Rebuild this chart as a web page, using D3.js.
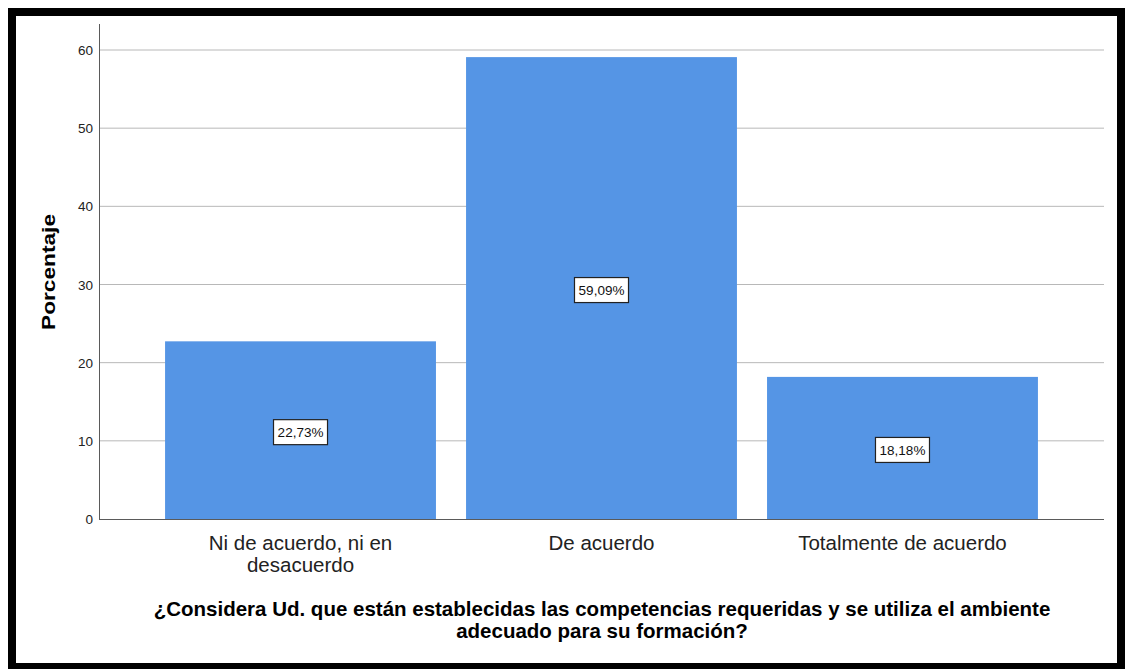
<!DOCTYPE html>
<html>
<head>
<meta charset="utf-8">
<script src="https://cdn.jsdelivr.net/npm/d3@7"></script>
<style>
  body { margin: 0; background: #fff; }
  svg { display: block; font-family: "Liberation Sans", Arial, sans-serif; }
</style>
</head>
<body>
<svg id="chart" width="1125" height="669"></svg>
<script>
const categories = [["Ni de acuerdo, ni en", "desacuerdo"], ["De acuerdo"], ["Totalmente de acuerdo"]];
const percentages = [22.73, 59.09, 18.18];
const valueLabels = ["22,73%", "59,09%", "18,18%"];
const yTicks = [0, 10, 20, 30, 40, 50, 60];
const yTitle = "Porcentaje";
const xTitle = ["¿Considera Ud. que están establecidas las competencias requeridas y se utiliza el ambiente", "adecuado para su formación?"];

const svg = d3.select("#chart");
const plotLeft = 99, plotRight = 1104, plotTop = 24, plotBottom = 519;

// frame
svg.append("rect")
    .attr("x", 12).attr("y", 12)
    .attr("width", 1109).attr("height", 655)
    .attr("fill", "none")
    .attr("stroke", "#000")
    .attr("stroke-width", 8);

const y = d3.scaleLinear().domain([0, 60]).range([plotBottom, 50]);
const x = d3.scaleBand()
    .domain(d3.range(percentages.length))
    .range([plotLeft, plotRight])
    .paddingInner(0.1)
    .paddingOuter(0.2195);

// gridlines
svg.append("g")
    .selectAll("line")
    .data(yTicks.filter(d => d > 0))
    .enter()
    .append("line")
    .attr("x1", plotLeft).attr("x2", plotRight)
    .attr("y1", d => y(d)).attr("y2", d => y(d))
    .attr("stroke", "#b8b8b8")
    .attr("stroke-width", 1);

// bars
svg.append("g")
    .selectAll("rect")
    .data(percentages)
    .enter()
    .append("rect")
    .attr("x", (d, i) => x(i))
    .attr("y", d => y(d))
    .attr("width", x.bandwidth())
    .attr("height", d => plotBottom - y(d))
    .attr("fill", "#5595e5");

// axes
svg.append("line")
    .attr("x1", plotLeft + 0.5).attr("x2", plotLeft + 0.5)
    .attr("y1", plotTop).attr("y2", plotBottom)
    .attr("stroke", "#5a5a5a");
svg.append("line")
    .attr("x1", plotLeft).attr("x2", plotRight)
    .attr("y1", plotBottom + 0.5).attr("y2", plotBottom + 0.5)
    .attr("stroke", "#5a5a5a");

svg.append("g")
    .selectAll("text")
    .data(yTicks)
    .enter()
    .append("text")
    .attr("x", plotLeft - 6)
    .attr("y", d => y(d) + 5)
    .attr("text-anchor", "end")
    .attr("font-size", 13.5)
    .attr("fill", "#222")
    .text(d => d);

// value labels
const labels = svg.append("g")
    .selectAll("g")
    .data(percentages)
    .enter()
    .append("g")
    .attr("transform", (d, i) => "translate(" + (x(i) + x.bandwidth() / 2) + "," + (y(d / 2) + 1.5) + ")");
labels.append("rect")
    .attr("x", -27).attr("y", -12)
    .attr("width", 54).attr("height", 25)
    .attr("fill", "#fff")
    .attr("stroke", "#222")
    .attr("stroke-width", 1.2);
labels.append("text")
    .attr("text-anchor", "middle")
    .attr("y", 5.5)
    .attr("font-size", 13.5)
    .attr("fill", "#111")
    .text((d, i) => valueLabels[i]);

// category labels
const catText = svg.append("g")
    .selectAll("text")
    .data(categories)
    .enter()
    .append("text")
    .attr("text-anchor", "middle")
    .attr("font-size", 20.5)
    .attr("fill", "#222");
catText.selectAll("tspan")
    .data((d, i) => d.map(t => ({ t: t, i: i })))
    .enter()
    .append("tspan")
    .attr("x", d => x(d.i) + x.bandwidth() / 2)
    .attr("y", (d, j) => 550 + j * 22)
    .text(d => d.t);

// axis titles
svg.append("text")
    .attr("transform", "translate(55," + 272 + ") rotate(-90)")
    .attr("text-anchor", "middle")
    .attr("font-size", 19)
    .attr("font-weight", "bold")
    .attr("fill", "#000")
    .attr("textLength", 116)
    .attr("lengthAdjust", "spacingAndGlyphs")
    .text(yTitle);

svg.append("text")
    .attr("text-anchor", "middle")
    .attr("font-size", 20.5)
    .attr("font-weight", "bold")
    .attr("fill", "#000")
    .selectAll("tspan")
    .data(xTitle)
    .enter()
    .append("tspan")
    .attr("x", 602)
    .attr("y", (d, i) => 616 + i * 22)
    .text(d => d);
</script>
</body>
</html>
